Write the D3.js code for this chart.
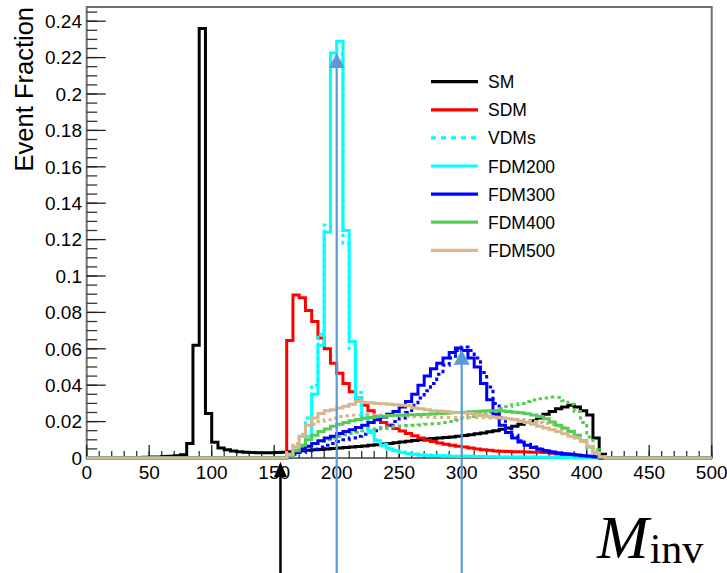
<!DOCTYPE html>
<html>
<head>
<meta charset="utf-8">
<script src="https://cdn.jsdelivr.net/npm/d3@7"></script>
<style>
  body { margin: 0; background: #fff; }
  text { font-family: "Liberation Sans", Arial, sans-serif; fill: #000; }
</style>
</head>
<body>
<svg id="chart"></svg>
<script>
// 5 GeV bins from 0 to 500, values are bin contents (event fraction)
const binWidth = 5;
const binEdges = d3.range(0, 500, binWidth);

const sm = [
  0, 0, 0, 0, 0, 0, 0.0001, 0.0002, 0.0003, 0.0004,
  0.0005, 0.0006, 0.0008, 0.001, 0.0013, 0.0018, 0.008, 0.062, 0.236, 0.0245,
  0.0086, 0.0055, 0.0045, 0.0038, 0.0034, 0.0031, 0.003, 0.0029, 0.0029, 0.0029,
  0.003, 0.0032, 0.0035, 0.0037, 0.004, 0.0042, 0.0045, 0.0047, 0.005, 0.0052,
  0.0055, 0.0058, 0.006, 0.0063, 0.0066, 0.007, 0.0073, 0.0077, 0.008, 0.0084,
  0.0088, 0.0092, 0.0096, 0.01, 0.0104, 0.0107, 0.011, 0.0113, 0.0116, 0.012,
  0.0124, 0.0128, 0.0133, 0.0138, 0.0144, 0.015, 0.0158, 0.0165, 0.0175, 0.0185,
  0.0195, 0.0205, 0.022, 0.024, 0.0255, 0.027, 0.028, 0.029, 0.028, 0.026,
  0.0236, 0.011, 0.002, 0, 0, 0, 0, 0, 0, 0,
  0, 0, 0, 0, 0, 0, 0, 0, 0, 0
];
const sdm = [
  0, 0, 0, 0, 0, 0, 0, 0, 0, 0,
  0, 0, 0, 0, 0, 0, 0, 0, 0, 0,
  0, 0, 0, 0, 0, 0, 0, 0, 0, 0,
  0, 0, 0.0645, 0.0896, 0.088, 0.081, 0.075, 0.066, 0.060, 0.052,
  0.0465, 0.041, 0.0364, 0.033, 0.029, 0.026, 0.023, 0.0195, 0.018, 0.0162,
  0.0148, 0.0135, 0.0122, 0.011, 0.0098, 0.009, 0.0083, 0.0076, 0.007, 0.0064,
  0.006, 0.0055, 0.005, 0.0046, 0.0042, 0.0039, 0.0037, 0.0036, 0.0035, 0.0034,
  0.0033, 0.0032, 0.0031, 0.003, 0.0026, 0.0022, 0.0019, 0.0016, 0.0013, 0.001,
  0.0008, 0.0005, 0.0002, 0, 0, 0, 0, 0, 0, 0,
  0, 0, 0, 0, 0, 0, 0, 0, 0, 0
];
const vdm200 = [
  0, 0, 0, 0, 0, 0, 0, 0, 0, 0,
  0, 0, 0, 0, 0, 0, 0, 0, 0, 0,
  0, 0, 0, 0, 0, 0, 0, 0, 0, 0,
  0, 0, 0.002, 0.006, 0.012, 0.022, 0.04, 0.068, 0.128, 0.215,
  0.222, 0.118, 0.06, 0.036, 0.024, 0.015, 0.01, 0.0075, 0.0055, 0.0043,
  0.0033, 0.0027, 0.0022, 0.0018, 0.0016, 0.0014, 0.0012, 0.0011, 0.001, 0.001,
  0.0009, 0.0009, 0.0008, 0.0008, 0.0007, 0.0007, 0.0006, 0.0006, 0.0006, 0.0005,
  0.0005, 0.0005, 0.0004, 0.0004, 0.0004, 0.0003, 0.0003, 0.0003, 0.0002, 0.0002,
  0.0002, 0.0001, 0.0001, 0, 0, 0, 0, 0, 0, 0,
  0, 0, 0, 0, 0, 0, 0, 0, 0, 0
];
const vdm300 = [
  0, 0, 0, 0, 0, 0, 0, 0, 0, 0,
  0, 0, 0, 0, 0, 0, 0, 0, 0, 0,
  0, 0, 0, 0, 0, 0, 0, 0, 0, 0,
  0, 0, 0.0005, 0.002, 0.003, 0.004, 0.005, 0.006, 0.007, 0.008,
  0.009, 0.01, 0.011, 0.012, 0.013, 0.014, 0.015, 0.0165, 0.018, 0.02,
  0.022, 0.025, 0.029, 0.033, 0.037, 0.041, 0.046, 0.051, 0.055, 0.059,
  0.061, 0.059, 0.055, 0.047, 0.039, 0.030, 0.022, 0.016, 0.0125, 0.0095,
  0.0075, 0.006, 0.005, 0.004, 0.0034, 0.0028, 0.0023, 0.002, 0.0017, 0.0013,
  0.001, 0.0006, 0, 0, 0, 0, 0, 0, 0, 0,
  0, 0, 0, 0, 0, 0, 0, 0, 0, 0
];
const vdm400 = [
  0, 0, 0, 0, 0, 0, 0, 0, 0, 0,
  0, 0, 0, 0, 0, 0, 0, 0, 0, 0,
  0, 0, 0, 0, 0, 0, 0, 0, 0, 0,
  0, 0, 0.001, 0.003, 0.005, 0.0065, 0.008, 0.009, 0.010, 0.011,
  0.012, 0.0128, 0.0135, 0.014, 0.0148, 0.0155, 0.016, 0.0165, 0.017, 0.0173,
  0.0176, 0.0178, 0.018, 0.0182, 0.0185, 0.0188, 0.019, 0.0195, 0.02, 0.0207,
  0.022, 0.0228, 0.0235, 0.0243, 0.025, 0.026, 0.0272, 0.0282, 0.0292, 0.030,
  0.031, 0.0318, 0.0325, 0.033, 0.0335, 0.0333, 0.0315, 0.0295, 0.0255, 0.0195,
  0.0115, 0.0045, 0.0008, 0, 0, 0, 0, 0, 0, 0,
  0, 0, 0, 0, 0, 0, 0, 0, 0, 0
];
const vdm500 = [
  0, 0, 0, 0, 0, 0, 0, 0, 0, 0,
  0, 0, 0, 0, 0, 0, 0, 0, 0, 0,
  0, 0, 0, 0, 0, 0, 0, 0, 0, 0,
  0, 0, 0.003, 0.008, 0.013, 0.016, 0.0185, 0.02, 0.021, 0.022,
  0.0228, 0.0232, 0.0235, 0.0236, 0.0237, 0.0237, 0.0236, 0.0235, 0.0233, 0.0232,
  0.023, 0.0228, 0.0226, 0.0225, 0.0224, 0.0223, 0.0222, 0.0222, 0.0222, 0.0222,
  0.0222, 0.0222, 0.0222, 0.0221, 0.022, 0.0219, 0.0218, 0.0216, 0.0213, 0.021,
  0.0205, 0.02, 0.0195, 0.019, 0.0183, 0.0175, 0.0167, 0.015, 0.0125, 0.009,
  0.0055, 0.0025, 0.0005, 0, 0, 0, 0, 0, 0, 0,
  0, 0, 0, 0, 0, 0, 0, 0, 0, 0
];
const fdm200 = [
  0, 0, 0, 0, 0, 0, 0, 0, 0, 0,
  0, 0, 0, 0, 0, 0, 0, 0, 0, 0,
  0, 0, 0, 0, 0, 0, 0, 0, 0, 0,
  0, 0, 0.001, 0.003, 0.006, 0.012, 0.035, 0.062, 0.124, 0.2225,
  0.229, 0.125, 0.064, 0.033, 0.022, 0.014, 0.0095, 0.007, 0.005, 0.004,
  0.003, 0.0025, 0.002, 0.0017, 0.0015, 0.0013, 0.0012, 0.0011, 0.001, 0.001,
  0.0009, 0.0009, 0.0008, 0.0008, 0.0007, 0.0007, 0.0006, 0.0006, 0.0006, 0.0005,
  0.0005, 0.0005, 0.0004, 0.0004, 0.0004, 0.0003, 0.0003, 0.0003, 0.0002, 0.0002,
  0.0002, 0.0001, 0.0001, 0, 0, 0, 0, 0, 0, 0,
  0, 0, 0, 0, 0, 0, 0, 0, 0, 0
];
const fdm300 = [
  0, 0, 0, 0, 0, 0, 0, 0, 0, 0,
  0, 0, 0, 0, 0, 0, 0, 0, 0, 0,
  0, 0, 0, 0, 0, 0, 0, 0, 0, 0,
  0, 0, 0.001, 0.003, 0.005, 0.0065, 0.008, 0.0095, 0.011, 0.012,
  0.0135, 0.0145, 0.0155, 0.0168, 0.018, 0.0195, 0.021, 0.0225, 0.024, 0.0255,
  0.028, 0.031, 0.035, 0.040, 0.045, 0.049, 0.052, 0.055, 0.058, 0.0605,
  0.059, 0.055, 0.050, 0.041, 0.032, 0.024, 0.018, 0.014, 0.011, 0.0088,
  0.007, 0.0058, 0.0048, 0.004, 0.0033, 0.0028, 0.0023, 0.002, 0.0017, 0.0013,
  0.001, 0.0006, 0, 0, 0, 0, 0, 0, 0, 0,
  0, 0, 0, 0, 0, 0, 0, 0, 0, 0
];
const fdm400 = [
  0, 0, 0, 0, 0, 0, 0, 0, 0, 0,
  0, 0, 0, 0, 0, 0, 0, 0, 0, 0,
  0, 0, 0, 0, 0, 0, 0, 0, 0, 0,
  0, 0, 0.001, 0.004, 0.007, 0.010, 0.0125, 0.0145, 0.016, 0.0175,
  0.0185, 0.0195, 0.0205, 0.0212, 0.0218, 0.0223, 0.0228, 0.023, 0.0233, 0.0235,
  0.0236, 0.0237, 0.0238, 0.0239, 0.024, 0.0242, 0.0244, 0.0246, 0.0248, 0.025,
  0.0252, 0.0254, 0.0256, 0.0258, 0.026, 0.026, 0.0258, 0.0255, 0.0252, 0.0248,
  0.0243, 0.0236, 0.0228, 0.0215, 0.0198, 0.018, 0.0163, 0.0145, 0.0125, 0.0095,
  0.006, 0.003, 0.0005, 0, 0, 0, 0, 0, 0, 0,
  0, 0, 0, 0, 0, 0, 0, 0, 0, 0
];
const fdm500 = [
  0, 0, 0, 0, 0, 0, 0, 0, 0, 0,
  0, 0, 0, 0, 0, 0, 0, 0, 0, 0,
  0, 0, 0, 0, 0, 0, 0, 0, 0, 0,
  0, 0, 0.002, 0.006, 0.012, 0.018, 0.022, 0.0245, 0.026, 0.0265,
  0.0275, 0.0285, 0.0295, 0.031, 0.0305, 0.0303, 0.030, 0.0298, 0.0295, 0.0292,
  0.029, 0.0287, 0.0275, 0.027, 0.0265, 0.026, 0.0258, 0.0255, 0.0252, 0.025,
  0.0247, 0.0244, 0.024, 0.0236, 0.0228, 0.0224, 0.022, 0.0215, 0.021, 0.0203,
  0.0195, 0.0185, 0.0175, 0.0165, 0.0155, 0.0145, 0.0133, 0.012, 0.011, 0.009,
  0.0065, 0.003, 0.0005, 0, 0, 0, 0, 0, 0, 0,
  0, 0, 0, 0, 0, 0, 0, 0, 0, 0
];

const xTicks = [0, 50, 100, 150, 200, 250, 300, 350, 400, 450, 500];
const yTicks = [0, 0.02, 0.04, 0.06, 0.08, 0.1, 0.12, 0.14, 0.16, 0.18, 0.2, 0.22, 0.24];
const yTickLabels = ['0', '0.02', '0.04', '0.06', '0.08', '0.1', '0.12', '0.14', '0.16', '0.18', '0.2', '0.22', '0.24'];

const legendNames = ['SM', 'SDM', 'VDMs', 'FDM200', 'FDM300', 'FDM400', 'FDM500'];

// arrows: mass thresholds (x value) and the height the arrow reaches
const arrowBlackX = 155;
const arrowBlueX = [200, 300];
const arrowBlueTop = [0.2225, 0.0595];

const W = 727, H = 573;
const svg = d3.select('#chart').attr('width', W).attr('height', H);

const x = d3.scaleLinear().domain([0, 500]).range([86.7, 711.7]);
const y = d3.scaleLinear().domain([0, 0.24]).range([458, 21.2]);
const yTopValue = 0.2478;

// frame
svg.append('rect')
    .attr('x', x(0)).attr('y', y(yTopValue))
    .attr('width', x(500) - x(0)).attr('height', y(0) - y(yTopValue))
    .attr('fill', 'none').attr('stroke', '#707070').attr('stroke-width', 2);

// y ticks (major every 0.02, minor every 0.005), drawn inside
const yMinor = d3.range(0, 0.2476, 0.005);
svg.append('g').selectAll('line')
  .data(yMinor)
  .enter().append('line')
    .attr('x1', x(0)).attr('x2', x(0) + 10.5)
    .attr('y1', d => y(d)).attr('y2', d => y(d))
    .attr('stroke', '#333').attr('stroke-width', 1.3);
svg.append('g').selectAll('line')
  .data(yTicks)
  .enter().append('line')
    .attr('x1', x(0)).attr('x2', x(0) + 19)
    .attr('y1', d => y(d)).attr('y2', d => y(d))
    .attr('stroke', '#222').attr('stroke-width', 1.3);
svg.append('g').selectAll('text')
  .data(yTicks)
  .enter().append('text')
    .attr('x', 82)
    .attr('y', d => y(d))
    .attr('dy', '0.36em')
    .attr('text-anchor', 'end')
    .style('font-size', '19px')
    .text((d, i) => yTickLabels[i]);

// x ticks (major every 50, minor every 10), drawn upward
const xMinor = d3.range(0, 501, 10);
svg.append('g').selectAll('line')
  .data(xMinor)
  .enter().append('line')
    .attr('x1', d => x(d)).attr('x2', d => x(d))
    .attr('y1', y(0)).attr('y2', y(0) - 7)
    .attr('stroke', '#333').attr('stroke-width', 1.3);
svg.append('g').selectAll('line')
  .data(xTicks)
  .enter().append('line')
    .attr('x1', d => x(d)).attr('x2', d => x(d))
    .attr('y1', y(0)).attr('y2', y(0) - 13)
    .attr('stroke', '#222').attr('stroke-width', 1.3);
svg.append('g').selectAll('text')
  .data(xTicks)
  .enter().append('text')
    .attr('x', d => x(d))
    .attr('y', 479)
    .attr('text-anchor', 'middle')
    .style('font-size', '19px')
    .text(d => d);

// axis title
svg.append('text')
    .attr('transform', 'translate(33,7) rotate(-90)')
    .attr('text-anchor', 'end')
    .style('font-size', '25.5px')
    .text('Event Fraction');

// histograms
const step = d3.line()
    .x(d => x(d[0]))
    .y(d => y(d[1]))
    .curve(d3.curveStepAfter);

function histPoints(vals) {
  const pts = vals.map((v, i) => [binEdges[i], v]);
  pts.push([500, vals[vals.length - 1]]);
  return pts;
}

const series = [
  { vals: sm, color: '#000000', dash: null },
  { vals: sdm, color: '#ff0000', dash: null },
  { vals: vdm200, color: '#00ffff', dash: '3.5,3.5' },
  { vals: vdm300, color: '#0000ff', dash: '3.5,3.5' },
  { vals: vdm400, color: '#55cc55', dash: '3.5,3.5' },
  { vals: vdm500, color: '#d6b88e', dash: '3.5,3.5' },
  { vals: fdm200, color: '#00ffff', dash: null },
  { vals: fdm300, color: '#0000ff', dash: null },
  { vals: fdm400, color: '#55cc55', dash: null },
  { vals: fdm500, color: '#d6b88e', dash: null }
];

svg.append('g').selectAll('path')
  .data(series)
  .enter().append('path')
    .attr('d', d => step(histPoints(d.vals)))
    .attr('fill', 'none')
    .attr('stroke', d => d.color)
    .attr('stroke-width', 3)
    .attr('stroke-dasharray', d => d.dash);

// legend
const legendColors = ['#000000', '#ff0000', '#00ffff', '#00ffff', '#0000ff', '#55cc55', '#d6b88e'];
const legend = svg.append('g');
legendNames.forEach((name, i) => {
  const ly = 81.7 + i * 28.1;
  legend.append('line')
      .attr('x1', 431).attr('x2', 478)
      .attr('y1', ly).attr('y2', ly)
      .attr('stroke', legendColors[i])
      .attr('stroke-width', 3.2)
      .attr('stroke-dasharray', name === 'VDMs' ? '5,5' : null);
  legend.append('text')
      .attr('x', 488).attr('y', ly + 6.5)
      .style('font-size', '17.5px')
      .text(name);
});

// arrows
function arrow(g, xv, yTip, yEnd, color, lw, headW, headL) {
  g.append('line')
      .attr('x1', x(xv)).attr('x2', x(xv))
      .attr('y1', yTip + headL - 1).attr('y2', yEnd)
      .attr('stroke', color).attr('stroke-width', lw);
  g.append('path')
      .attr('d', `M${x(xv)},${yTip} L${x(xv) - headW / 2},${yTip + headL} L${x(xv) + headW / 2},${yTip + headL} Z`)
      .attr('fill', color);
}
const arrows = svg.append('g');
arrowBlueX.forEach((v, i) => arrow(arrows, v, y(arrowBlueTop[i]), H, '#5b9bd5', 2.2, 16, 15));
arrow(arrows, arrowBlackX, 462, H, '#000', 2.5, 13, 15);

// M_inv label
const mlab = svg.append('text')
    .attr('x', 597).attr('y', 558)
    .style('font-family', '"Liberation Serif", "Times New Roman", serif');
mlab.append('tspan')
    .style('font-style', 'italic')
    .style('font-size', '62px')
    .text('M');
mlab.append('tspan')
    .attr('dy', 5)
    .attr('dx', 1)
    .style('font-size', '42px')
    .text('inv');
</script>
</body>
</html>
